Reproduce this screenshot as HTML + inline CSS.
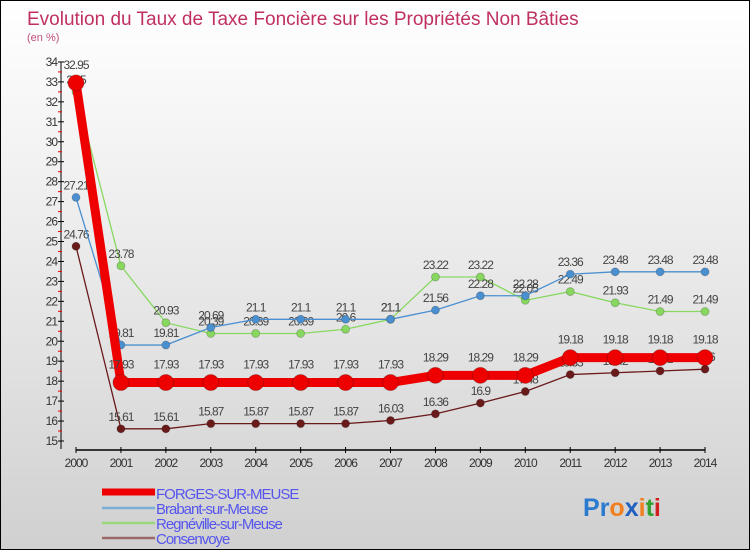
<!DOCTYPE html>
<html><head><meta charset="utf-8"><style>
body{margin:0}
#c{width:748px;height:548px;border:1px solid #000;background:linear-gradient(#fff,#e4e4e4 60%,#d0d0d0);position:relative;font-family:"Liberation Sans",sans-serif}
</style></head><body>
<div id="c">
<svg width="748" height="548" id="svg"></svg>
</div>
<script>
const years=[2000,2001,2002,2003,2004,2005,2006,2007,2008,2009,2010,2011,2012,2013,2014];
const forges=[32.95,17.93,17.93,17.93,17.93,17.93,17.93,17.93,18.29,18.29,18.29,19.18,19.18,19.18,19.18];
const brabant=[27.21,19.81,19.81,20.69,21.1,21.1,21.1,21.1,21.56,22.28,22.28,23.36,23.48,23.48,23.48];
const regne=[32.5,23.78,20.93,20.39,20.39,20.39,20.6,21.1,23.22,23.22,22.05,22.49,21.93,21.49,21.49];
const consen=[24.76,15.61,15.61,15.87,15.87,15.87,15.87,16.03,16.36,16.9,17.48,18.33,18.42,18.51,18.6];
const yTicks=[15,16,17,18,19,20,21,22,23,24,25,26,27,28,29,30,31,32,33,34];
const names=["FORGES-SUR-MEUSE","Brabant-sur-Meuse","Regnéville-sur-Meuse","Consenvoye"];
const NS="http://www.w3.org/2000/svg";
const svg=document.getElementById('svg');
const X=i=>75+i*44.93;
const Y=v=>440-(v-15)*19.95;
function el(t,a,p){const e=document.createElementNS(NS,t);for(const k in a)e.setAttribute(k,a[k]);(p||svg).appendChild(e);return e;}
function txt(s,a){const e=el('text',a);e.textContent=s;return e;}
let t=txt("Evolution du Taux de Taxe Foncière sur les Propriétés Non Bâties",{x:26,y:24,'font-size':19,fill:'#c0305f'});

t=txt("(en %)",{x:26,y:40,'font-size':11,fill:'#c0507f'});

let ax=el('line',{x1:60,y1:Y(34),x2:60,y2:Y(14.6),stroke:'#000'});

ax=el('line',{x1:75,y1:449,x2:X(14),y2:449,stroke:'#000','stroke-width':1.5});

yTicks.forEach(v=>{
 el('line',{x1:57,y1:Y(v),x2:63,y2:Y(v),stroke:'#000'});
 if(v<34) el('line',{x1:57,y1:Y(v+0.5),x2:61,y2:Y(v+0.5),stroke:'#e00'});
 const l=txt(v,{x:56,y:Y(v)+4,'font-size':12,fill:'#333','text-anchor':'end','letter-spacing':-1});
 
});
years.forEach((y,i)=>{
 el('line',{x1:X(i),y1:446,x2:X(i),y2:452,stroke:'#000'});
 const l=txt(y,{x:X(i),y:466,'font-size':12,fill:'#333','text-anchor':'middle','letter-spacing':-1});
 
});
function series(data,color,w,r,name,dy){
 const g=el('g',{});
 
 el('polyline',{points:data.map((v,i)=>X(i)+','+Y(v)).join(' '),fill:'none',stroke:color,'stroke-width':w},g);
 data.forEach((v,i)=>{
  const c=el('circle',{cx:X(i),cy:Y(v),r:r,fill:color,stroke:'rgba(0,0,0,0.2)'},g);
  
  const l=el('text',{x:X(i),y:Y(v)-dy,'font-size':12,fill:'#444','text-anchor':'middle','letter-spacing':-1},g);
  l.textContent=v;
 });
}
series(consen,'#6b1a1a',1.3,4,'series-consenvoye',8);
series(regne,'#88d860',1.3,4,'series-regneville',8);
series(brabant,'#4a90d0',1.3,4,'series-brabant',8);
series(forges,'#ee0000',9,8,'series-forges',14);
const lc=['#ee0000','#7aaed8','#98d878','#9a6a6a'],lw=[7,2.5,2.5,2.5],ly=[492,507,522,537];
names.forEach((n,i)=>{
 const g=el('g',{});
 el('line',{x1:101,y1:ly[i]+(i==0?-1:0),x2:154,y2:ly[i]+(i==0?-1:0),stroke:lc[i],'stroke-width':lw[i]},g);
 const l=el('text',{x:155,y:ly[i]+6,'font-size':15,fill:'#5555ee','letter-spacing':-1},g);l.textContent=n;
});
const lg=el('text',{x:582,y:515,'font-size':25,'font-weight':'bold'});

[['P','#2a7ad0'],['r','#2a7ad0'],['o','#f08020'],['x','#2060c0'],['i','#f08020'],['t','#30a030'],['i','#d02020']].forEach(([c,f])=>{const s=el('tspan',{fill:f},lg);s.textContent=c;});
</script>
</body></html>
